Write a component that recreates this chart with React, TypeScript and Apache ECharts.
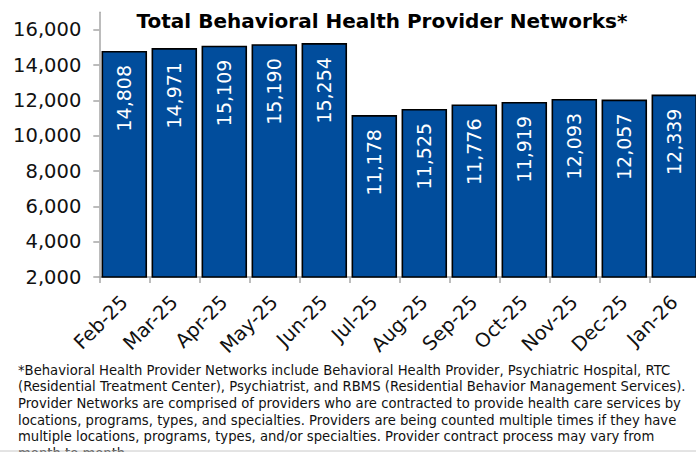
import React, { useEffect, useRef } from "react";
import * as echarts from "echarts";

const categories = ["Feb-25", "Mar-25", "Apr-25", "May-25", "Jun-25", "Jul-25", "Aug-25", "Sep-25", "Oct-25", "Nov-25", "Dec-25", "Jan-26"];
const providerNetworks = [14808, 14971, 15109, 15190, 15254, 11178, 11525, 11776, 11919, 12093, 12057, 12339];
const yTicks = [2000, 4000, 6000, 8000, 10000, 12000, 14000, 16000];
const titleText = "Total Behavioral Health Provider Networks*";
const footnoteLines = [
  "*Behavioral Health Provider Networks include Behavioral Health Provider, Psychiatric Hospital, RTC",
  "(Residential Treatment Center), Psychiatrist, and RBMS (Residential Behavior Management Services).",
  "Provider Networks are comprised of providers who are contracted to provide health care services by",
  "locations, programs, types, and specialties. Providers are being counted multiple times if they have",
  "multiple locations, programs, types, and/or specialties. Provider contract process may vary from",
  "month to month.",
];

const fmt = (v: number) => v.toLocaleString("en-US");

export default function App() {
  const ref = useRef<HTMLDivElement>(null);
  useEffect(() => {
    if (!ref.current) return;
    const chart = echarts.init(ref.current, undefined, { renderer: "svg" });
    const font = "'DejaVu Sans', sans-serif";
    chart.setOption({
      animation: false,
      backgroundColor: "#ffffff",
      grid: { left: 99.3, right: 20.7, top: 12.3, bottom: 175, containLabel: false },
      xAxis: {
        type: "category",
        data: categories,
        axisLine: { show: true, lineStyle: { color: "#a6a6a6", width: 1.5 } },
        axisTick: { show: true, length: 6, lineStyle: { color: "#a6a6a6", width: 1.5 } },
        axisLabel: {
          rotate: 45,
          margin: 22,
          fontFamily: font,
          fontSize: 19.5,
          color: "#111111",
        },
      },
      yAxis: {
        type: "value",
        min: 2000,
        max: 17000,
        interval: 2000,
        splitLine: { show: false },
        axisLine: { show: true, lineStyle: { color: "#a6a6a6", width: 1.5 } },
        axisTick: { show: true, length: 6, customValues: yTicks, lineStyle: { color: "#a6a6a6", width: 1.5 } },
        axisLabel: {
          customValues: yTicks,
          margin: 18,
          fontFamily: font,
          fontSize: 19.5,
          color: "#111111",
          formatter: (v: number) => fmt(v),
        },
      },
      series: [
        {
          type: "bar",
          data: providerNetworks,
          barCategoryGap: "9%",
          itemStyle: { color: "#014d9c", borderColor: "#000000", borderWidth: 1.6 },
          label: {
            show: true,
            position: "insideTop",
            rotate: 90,
            align: "right",
            verticalAlign: "middle",
            distance: 14,
            fontFamily: font,
            fontSize: 19,
            color: "#ffffff",
            formatter: (p: any) => fmt(p.value),
          },
        },
      ],
      graphic: [
        {
          type: "text",
          x: 382,
          y: 21,
          style: {
            text: titleText,
            textAlign: "center",
            textVerticalAlign: "middle",
            fontFamily: font,
            fontWeight: "bold",
            fontSize: 20,
            fill: "#000000",
          },
        },
        {
          type: "text",
          x: 18,
          y: 362,
          style: {
            text: footnoteLines.join("\n"),
            textAlign: "left",
            textVerticalAlign: "top",
            fontFamily: font,
            fontSize: 13.2,
            lineHeight: 16.6,
            fill: "#111111",
          },
        },
        {
          type: "line",
          shape: { x1: 0, y1: 451, x2: 720, y2: 451 },
          style: { stroke: "#c8c8c8", lineWidth: 1 },
        },
      ],
    });
    return () => chart.dispose();
  }, []);
  return (
    <div style={{ position: "fixed", left: 0, top: 0, width: 696, height: 452, overflow: "hidden", background: "#fff" }}>
      <div ref={ref} style={{ width: 720, height: 452 }} />
    </div>
  );
}
